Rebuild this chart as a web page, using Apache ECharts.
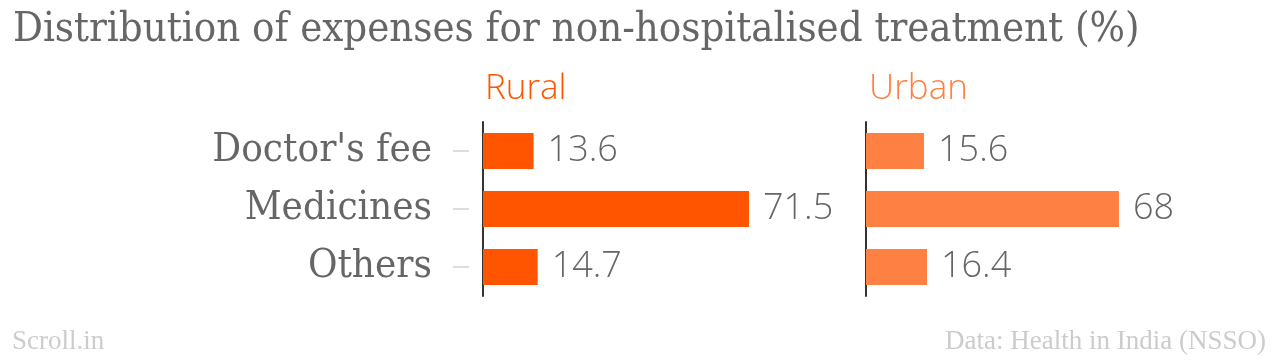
<!DOCTYPE html>
<html><head><meta charset="utf-8">
<script src="https://cdn.jsdelivr.net/npm/echarts@6/dist/echarts.min.js"></script>
<style>html,body{margin:0;padding:0;background:#fff}#c{width:1280px;height:362px}</style>
</head><body><div id="c"></div>
<script>
const categories = ["Doctor's fee", "Medicines", "Others"];
const ruralValues = [13.6, 71.5, 14.7];
const urbanValues = [15.6, 68, 16.4];
const panelNames = ["Rural", "Urban"];
const titleText = "Distribution of expenses for non-hospitalised treatment (%)";
const sourceLeft = "Scroll.in";
const sourceRight = "Data: Health in India (NSSO)";

const chart = echarts.init(document.getElementById('c'), null, {renderer: 'canvas'});
const serif = "'DejaVu Serif Condensed', 'DejaVu Serif', serif";
const sans = "'Open Sans', sans-serif";
const valueLabel = {show: true, position: 'right', distance: 14, color: '#666', fontFamily: sans, fontWeight: 300, fontSize: 36};
chart.setOption({
  animation: false,
  title: [
    {text: titleText, left: 8, top: 4, textStyle: {fontFamily: serif, fontWeight: 'normal', fontSize: 41.5, color: '#666'}},
    {text: panelNames[0], left: 480, top: 67, textStyle: {fontFamily: sans, fontWeight: 300, fontSize: 35, color: '#ff5500'}},
    {text: panelNames[1], left: 864, top: 67, textStyle: {fontFamily: sans, fontWeight: 300, fontSize: 35, color: '#ff8043'}},
    {text: sourceLeft, left: 7, bottom: 2, textStyle: {fontFamily: "'Liberation Serif', serif", fontWeight: 'normal', fontSize: 27, color: '#ccc'}},
    {text: sourceRight, right: 9, bottom: 2, textStyle: {fontFamily: "'Liberation Serif', serif", fontWeight: 'normal', fontSize: 27, color: '#ccc'}}
  ],
  grid: [
    {left: 483, top: 122, width: 372, height: 174},
    {left: 866, top: 122, width: 372, height: 174},
    {left: 469, top: 122, width: 2, height: 174}
  ],
  xAxis: [
    {gridIndex: 0, type: 'value', min: 0, max: 100, show: false},
    {gridIndex: 1, type: 'value', min: 0, max: 100, show: false},
    {gridIndex: 2, type: 'value', min: 0, max: 1, show: false}
  ],
  yAxis: [
    {gridIndex: 0, type: 'category', data: categories, inverse: true, position: 'left',
     axisLine: {show: true, lineStyle: {color: '#333', width: 2}}, axisTick: {show: false}, axisLabel: {show: false}},
    {gridIndex: 1, type: 'category', data: categories, inverse: true, position: 'left',
     axisLine: {show: true, lineStyle: {color: '#333', width: 2}}, axisTick: {show: false}, axisLabel: {show: false}},
    {gridIndex: 2, type: 'category', data: categories, inverse: true, position: 'left',
     axisLine: {show: false},
     axisTick: {show: true, inside: false, alignWithLabel: true, length: 16, lineStyle: {color: '#ddd', width: 2}},
     axisLabel: {margin: 37, color: '#666', fontFamily: serif, fontSize: 40}}
  ],
  series: [
    {type: 'bar', xAxisIndex: 0, yAxisIndex: 0, data: ruralValues, barWidth: 36, itemStyle: {color: '#ff5500'}, label: valueLabel},
    {type: 'bar', xAxisIndex: 1, yAxisIndex: 1, data: urbanValues, barWidth: 36, itemStyle: {color: '#ff8043'}, label: valueLabel}
  ]
});
</script></body></html>
